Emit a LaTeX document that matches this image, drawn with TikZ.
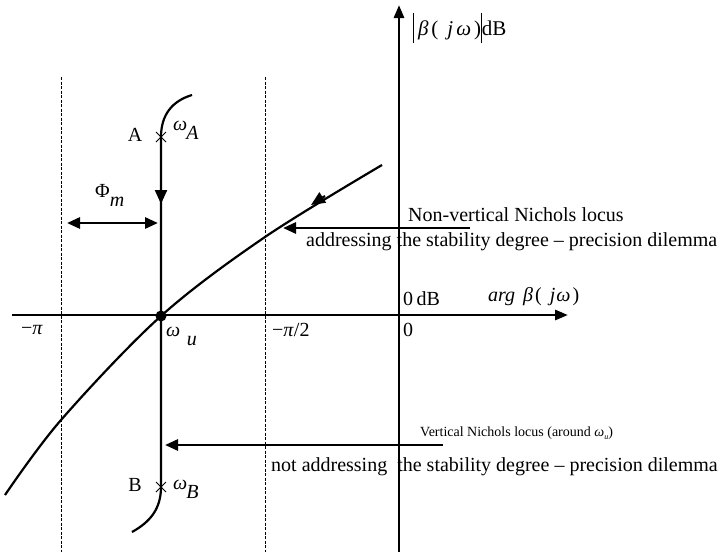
\documentclass[tikz,border=0pt]{standalone}
\usepackage{fontspec}
\setmainfont{Liberation Serif}
\usetikzlibrary{arrows.meta,calc}
\tikzset{
  axis/.style={line width=2.8pt,-{Triangle[length=13pt,width=10pt]}},
  locus/.style={line width=2.2pt},
  guide/.style={line width=0.9pt,dash pattern=on 3pt off 1.5pt},
  pointer/.style={line width=2.8pt,-{Triangle[length=13pt,width=11pt]}},
  tip/.style={-{Triangle[length=14pt,width=12pt]},line width=2.2pt},
  lbl/.style={font=\fontsize{20}{24}\selectfont,inner sep=0pt},
  biglbl/.style={font=\fontsize{21}{25}\selectfont,inner sep=0pt},
  small/.style={font=\fontsize{14}{17}\selectfont,inner sep=0pt},
  cross/.style={line width=0.8pt}
}
\newcommand{\vbar}{\rule[-0.35em]{0.8pt}{1.4em}}
\begin{document}
\begin{tikzpicture}[x=1pt,y=-1pt]
\useasboundingbox (0,0) rectangle (728,552);
% guides
\coordinate (g1t) at (61,77); \coordinate (g1b) at (61,552);
\coordinate (g2t) at (265,77); \coordinate (g2b) at (265,552);
\draw[guide] (g1t) -- (g1b);
\draw[guide] (g2t) -- (g2b);
% axes
\coordinate (xs) at (12,315); \coordinate (xe) at (568,315);
\coordinate (ys) at (399,552); \coordinate (ye) at (399,5);
\draw[axis] (xs) -- (xe);
\draw[axis] (ys) -- (ye);
% non-vertical locus
\draw[locus] plot[smooth,tension=0.55] coordinates {(5,495) (61,420) (161,316) (265,237) (382,165)};
\coordinate (c1) at (325,196); \coordinate (c2) at (311,205);
\draw[tip] (c1) -- (c2);
% vertical locus
\coordinate (A) at (161,137); \coordinate (B) at (161,487);
\coordinate (At) at (192,95); \coordinate (Bb) at (132,532);
\draw[locus] (At) .. controls (172,101) and (161,115) .. (A) -- (B) .. controls (161,509) and (150,522) .. (Bb);
\coordinate (v1) at (161,182); \coordinate (v2) at (161,204);
\draw[tip] (v1) -- (v2);
% crosses
\draw[cross] ($(A)+(-5,-5)$) -- ($(A)+(5,5)$) ($(A)+(-5,5)$) -- ($(A)+(5,-5)$);
\draw[cross] ($(B)+(-5,-5)$) -- ($(B)+(5,5)$) ($(B)+(-5,5)$) -- ($(B)+(5,-5)$);
% omega_u point
\coordinate (U) at (161,316);
\fill (U) circle (5.5);
% Phi_m arrow
\coordinate (p1) at (67,223); \coordinate (p2) at (158,223);
\draw[line width=2.8pt,{Triangle[length=13pt,width=11pt]}-{Triangle[length=13pt,width=11pt]}] (p1) -- (p2);
% pointers
\coordinate (r1) at (470,228); \coordinate (r2) at (283,228);
\draw[pointer] (r1) -- (r2);
\coordinate (s1) at (443,445); \coordinate (s2) at (165,445);
\draw[pointer] (s1) -- (s2);
% labels
\node[biglbl,anchor=west] (ylab) at (413,28) {\vbar\hspace{4pt}\textit{β}\hspace{3pt}(\hspace{9pt}\textit{j}\hspace{3pt}\textit{ω}\hspace{3pt})\vbar dB};
\node[lbl] (Alab) at (135,135) {A};
\node[lbl,anchor=west] (wA) at (173,130) {\textit{ω}\raisebox{-0.45em}{\hspace{-1pt}\textit{A}}};
\node[lbl] (Blab) at (135,485) {B};
\node[lbl,anchor=west] (wB) at (173,489) {\textit{ω}\raisebox{-0.45em}{\hspace{-1pt}\textit{B}}};
\node[lbl,anchor=west] (phi) at (95,195) {Φ\raisebox{-0.45em}{\textit{m}}};
\node[lbl,anchor=west] (wu) at (166,336) {\textit{ω}\raisebox{-0.45em}{\,\,\textit{u}}};
\node[lbl] (mpi) at (32,330) {−\textit{π}};
\node[lbl,anchor=west] (mpi2) at (272,330) {−\textit{π}/2};
\node[lbl,anchor=west] (zero) at (403,330) {0};
\node[lbl,anchor=west] (zdb) at (403,299) {0\,dB};
\node[lbl,anchor=west] (xlab) at (488,297) {\textit{arg}\hspace{8pt}\textit{β}\hspace{2pt}(\hspace{8pt}\textit{j}\hspace{1pt}\textit{ω}\hspace{2pt})};
\node[lbl,anchor=west] (t1) at (408,215) {Non-vertical Nichols locus};
\node[lbl,anchor=west] (t2) at (306,242) {addressing the stability degree – precision dilemma};
\node[small,anchor=west] (t3) at (420,433) {Vertical Nichols locus (around \textit{ω}\raisebox{-0.25em}{\fontsize{8}{9}\selectfont\textit{u}})};
\node[lbl,anchor=west] (t4) at (271,467) {not addressing\ \ the stability degree – precision dilemma};
\end{tikzpicture}
\end{document}
